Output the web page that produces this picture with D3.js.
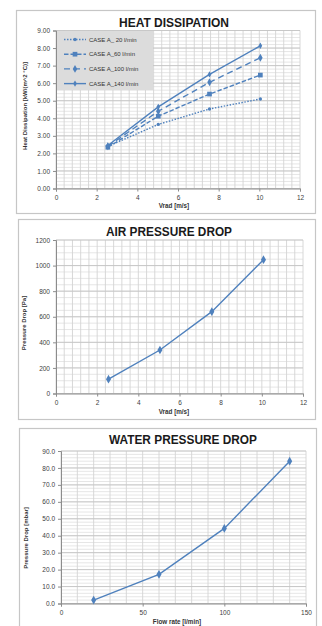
<!DOCTYPE html>
<html>
<head>
<meta charset="utf-8">
<script src="https://cdn.jsdelivr.net/npm/d3@7"></script>
<style>
  body { margin: 0; background: #fff; }
  text { font-family: "Liberation Sans", Arial, sans-serif; }
</style>
</head>
<body>
<div class="canvas"></div>
<script>
// data
const vrad = [2.55, 5.03, 7.55, 10.05];
const case20 = [2.40, 3.65, 4.53, 5.10];
const case60 = [2.35, 4.12, 5.38, 6.46];
const case100 = [2.40, 4.40, 6.05, 7.45];
const case140 = [2.45, 4.65, 6.50, 8.13];
const caseNames = ['CASE A_ 20 l/min', 'CASE A_60 l/min', 'CASE A_100 l/min', 'CASE A_140 l/min'];

const airVrad = [2.55, 5.05, 7.57, 10.08];
const airDrop = [112, 340, 640, 1046];

const flowRate = [20, 60, 100, 140];
const waterDrop = [2.0, 17.2, 44.3, 84.0];

const heatTicksY = d3.range(0, 9.01, 1);
const vradTicks = [0, 2, 4, 6, 8, 10, 12];
const airTicksY = [0, 200, 400, 600, 800, 1000, 1200];
const waterTicksY = d3.range(0, 90.1, 10);
const flowTicks = [0, 50, 100, 150];

const blue = '#4f81bd';

const svg = d3.select('.canvas').append('svg')
  .attr('width', 322)
  .attr('height', 626);

// draws one excel-like chart: frame, grid, axes, titles
const makeChart = function(c) {
  svg.append('rect')
    .attr('x', c.frame[0] + 0.5).attr('y', c.frame[1] + 0.5)
    .attr('width', c.frame[2]).attr('height', c.frame[3])
    .attr('fill', '#fff')
    .attr('stroke', '#c6c6c6')
    .attr('stroke-width', 1.2);

  const x = d3.scaleLinear().domain(c.xDomain).range([c.left, c.right]);
  const y = d3.scaleLinear().domain(c.yDomain).range([c.bottom, c.top]);

  const grid = svg.append('g');
  // minor lines
  grid.selectAll('.hmin')
    .data(d3.range(c.yDomain[0], c.yDomain[1] + 1e-9, c.yMinor))
    .enter().append('line')
      .attr('x1', c.left).attr('x2', c.right)
      .attr('y1', d => y(d)).attr('y2', d => y(d))
      .attr('stroke', '#e0e0e0').attr('stroke-width', 0.8);
  grid.selectAll('.vmin')
    .data(d3.range(c.xDomain[0], c.xDomain[1] + 1e-9, c.xMinor))
    .enter().append('line')
      .attr('x1', d => x(d)).attr('x2', d => x(d))
      .attr('y1', c.top).attr('y2', c.bottom)
      .attr('stroke', '#d4d4d4').attr('stroke-width', 0.9);
  // major horizontal lines
  grid.selectAll('.hmaj')
    .data(c.yTicks)
    .enter().append('line')
      .attr('x1', c.left).attr('x2', c.right)
      .attr('y1', d => y(d)).attr('y2', d => y(d))
      .attr('stroke', '#c4c4c4').attr('stroke-width', 0.9);

  const xAxis = d3.axisBottom(x).tickValues(c.xTicks).tickSize(3).tickPadding(4)
    .tickFormat(c.xFormat);
  const yAxis = d3.axisLeft(y).tickValues(c.yTicks).tickSize(3).tickPadding(3)
    .tickFormat(c.yFormat);

  const xg = svg.append('g').attr('transform', `translate(0,${c.bottom})`).call(xAxis);
  const yg = svg.append('g').attr('transform', `translate(${c.left},0)`).call(yAxis);
  [xg, yg].forEach(g => {
    g.select('.domain').attr('stroke', '#8c8c8c');
    g.selectAll('.tick line').attr('stroke', '#8c8c8c');
    g.selectAll('text').attr('fill', '#404040').style('font-size', '6.5px')
      .style('font-family', '"Liberation Sans", Arial, sans-serif');
  });

  svg.append('text')
    .attr('x', c.titleX).attr('y', c.titleY)
    .attr('text-anchor', 'middle')
    .attr('font-weight', 'bold')
    .attr('font-size', c.titleSize)
    .attr('textLength', c.titleLen)
    .attr('lengthAdjust', 'spacingAndGlyphs')
    .attr('fill', '#1a1a1a')
    .text(c.title);

  svg.append('text')
    .attr('x', c.xLabelX).attr('y', c.xLabelY)
    .attr('text-anchor', 'middle')
    .attr('font-weight', 'bold')
    .attr('font-size', 6.3)
    .attr('fill', '#333')
    .text(c.xLabel);

  svg.append('text')
    .attr('transform', `translate(${c.yLabelX},${c.yLabelY}) rotate(-90)`)
    .attr('text-anchor', 'middle')
    .attr('font-weight', 'bold')
    .attr('font-size', 6)
    .attr('fill', '#333')
    .text(c.yLabel);

  return { x, y };
};

const diamond = d3.symbol().type(d3.symbolDiamond);
const square = d3.symbol().type(d3.symbolSquare);
const circle = d3.symbol().type(d3.symbolCircle);

const drawSeries = function(g, sc, xs, ys, style) {
  const pts = xs.map((v, i) => [v, ys[i]]);
  const line = d3.line().x(d => sc.x(d[0])).y(d => sc.y(d[1]));
  g.append('path')
    .datum(pts)
    .attr('fill', 'none')
    .attr('stroke', blue)
    .attr('stroke-width', style.width || 1.4)
    .attr('stroke-dasharray', style.dash || null)
    .attr('d', line);
  g.selectAll(null)
    .data(pts)
    .enter().append('path')
      .attr('transform', d => `translate(${sc.x(d[0])},${sc.y(d[1])})`)
      .attr('d', style.symbol.size(style.size)())
      .attr('fill', blue);
};

// ===== HEAT DISSIPATION =====
const heat = makeChart({
  frame: [16, 10, 299, 203],
  left: 56, right: 300, top: 30.5, bottom: 188.5,
  xDomain: [0, 12], yDomain: [0, 9],
  xMinor: 0.4, yMinor: 0.2,
  xTicks: vradTicks, yTicks: heatTicksY,
  xFormat: d3.format('d'), yFormat: d3.format('.2f'),
  title: 'HEAT DISSIPATION', titleX: 174, titleY: 26.5, titleSize: 12, titleLen: 110,
  xLabel: 'Vrad [m/s]', xLabelX: 174, xLabelY: 208,
  yLabel: 'Heat Dissipation [kW/(m^2 °C)]', yLabelX: 27, yLabelY: 106
});

const heatStyles = [
  { dash: '1.5,1.5', symbol: circle, size: 9 },
  { dash: '4.5,2', symbol: square, size: 22 },
  { dash: '6,4', symbol: diamond, size: 18 },
  { dash: null, symbol: diamond, size: 12 }
];
const heatSeries = [case20, case60, case100, case140];

// legend box sits on top of the grid
const legend = svg.append('g');
legend.append('rect')
  .attr('x', 57).attr('y', 31)
  .attr('width', 96).attr('height', 59)
  .attr('fill', '#dcdcdc');
caseNames.forEach((name, i) => {
  const ly = 39.5 + i * 14.7;
  const st = heatStyles[i];
  legend.append('line')
    .attr('x1', 64).attr('x2', 86).attr('y1', ly).attr('y2', ly)
    .attr('stroke', blue).attr('stroke-width', 1.4)
    .attr('stroke-dasharray', st.dash);
  legend.append('path')
    .attr('transform', `translate(75,${ly})`)
    .attr('d', st.symbol.size(st.size)())
    .attr('fill', blue);
  legend.append('text')
    .attr('x', 89).attr('y', ly + 2)
    .attr('font-size', 6)
    .attr('fill', '#333')
    .text(name);
});

const heatLines = svg.append('g');
heatSeries.forEach((s, i) => drawSeries(heatLines, heat, vrad, s, heatStyles[i]));

// ===== AIR PRESSURE DROP =====
const air = makeChart({
  frame: [18, 219, 297, 200],
  left: 56, right: 303, top: 240, bottom: 393.5,
  xDomain: [0, 12], yDomain: [0, 1200],
  xMinor: 0.4, yMinor: 50,
  xTicks: vradTicks, yTicks: airTicksY,
  xFormat: d3.format('d'), yFormat: d3.format('d'),
  title: 'AIR PRESSURE DROP', titleX: 169, titleY: 236, titleSize: 13.5, titleLen: 126,
  xLabel: 'Vrad [m/s]', xLabelX: 174, xLabelY: 414,
  yLabel: 'Pressure Drop [Pa]', yLabelX: 26, yLabelY: 323
});
drawSeries(svg.append('g'), air, airVrad, airDrop, { symbol: diamond, size: 22 });

// ===== WATER PRESSURE DROP =====
const water = makeChart({
  frame: [19, 428, 297, 210],
  left: 61, right: 306, top: 451, bottom: 603.5,
  xDomain: [0, 150], yDomain: [0, 90],
  xMinor: 10, yMinor: 2,
  xTicks: flowTicks, yTicks: waterTicksY,
  xFormat: d3.format('d'), yFormat: d3.format('.1f'),
  title: 'WATER PRESSURE DROP', titleX: 183, titleY: 444, titleSize: 13.5, titleLen: 148,
  xLabel: 'Flow rate [l/min]', xLabelX: 177, xLabelY: 624,
  yLabel: 'Pressure Drop [mbar]', yLabelX: 28, yLabelY: 538
});
drawSeries(svg.append('g'), water, flowRate, waterDrop, { symbol: diamond, size: 22 });
</script>
</body>
</html>
